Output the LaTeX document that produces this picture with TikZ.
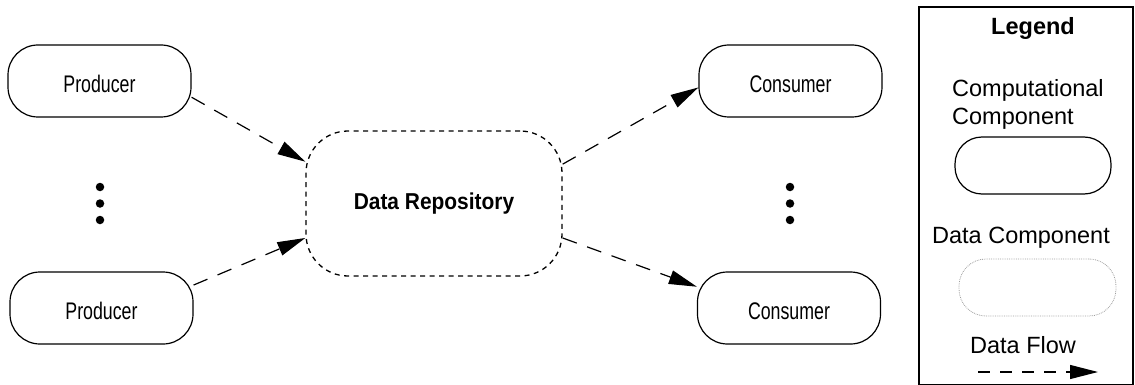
\documentclass[tikz,border=0pt]{standalone}
\usepackage{fontspec}
\setmainfont{Liberation Sans}
\newfontfamily\narrowfont[FakeStretch=0.74]{Liberation Sans}
\newfontfamily\repofont[FakeStretch=0.91]{Liberation Sans}
\usetikzlibrary{arrows.meta}

\begin{document}
\begin{tikzpicture}[x=1pt,y=-1pt]
\tikzset{
  comp/.style={draw, line width=1.2pt, rounded corners=30pt,
    minimum width=183pt, minimum height=72pt, inner sep=0pt,
    text height=23pt, text depth=0pt,
    font=\narrowfont\fontsize{24}{28}\selectfont},
  repo/.style={draw, line width=1.3pt, dash pattern=on 5pt off 4.5pt,
    rounded corners=42pt, minimum width=256pt, minimum height=145pt,
    inner sep=0pt, font=\repofont\bfseries\fontsize{23}{27}\selectfont},
  flow/.style={line width=1.2pt, dash pattern=on 15pt off 11pt,
    -{Triangle[length=28pt,width=14pt]}},
  vdot/.style={circle, fill, inner sep=0pt, minimum size=8.5pt},
  legtext/.style={font=\fontsize{23.5}{28}\selectfont, inner sep=0pt, anchor=base},
}
\useasboundingbox (0,0) rectangle (1135,385);

% components
\node[comp] (p1) at (99.5,81) {Producer};
\node[comp] (p2) at (101.5,308) {Producer};
\node[comp] (c1) at (790.5,81) {Consumer};
\node[comp] (c2) at (789,308) {Consumer};
\node[repo] (repo) at (434,203.5) {Data Repository};

% vertical ellipses
\node[vdot] (lp1) at (100,187) {};
\node[vdot] (lp2) at (100,203.5) {};
\node[vdot] (lp3) at (100,220) {};
\node[vdot] (rc1) at (790,187) {};
\node[vdot] (rc2) at (790,203.5) {};
\node[vdot] (rc3) at (790,220) {};

% data flows
\draw[flow] (p1.-10) -- (repo.162);
\draw[flow] (p2.14) -- (repo.-165);
\draw[flow] (repo.17.6) -- (c1.184);
\draw[flow] (repo.-15) -- (c2.167);

% legend
\node[draw, line width=1.5pt, minimum width=214pt, minimum height=378pt, inner sep=0pt] (legend) at (1026,196) {};
\node[legtext, font=\bfseries\fontsize{23.5}{28}\selectfont] (legtitle) at (1033,35) {Legend};
\node[legtext, anchor=base west] (lc1) at (952,97) {Computational};
\node[legtext, anchor=base west] (lc2) at (952,125) {Component};
\node[draw, line width=1.2pt, rounded corners=27pt, minimum width=156pt, minimum height=57pt] (legcomp) at (1033,165.5) {};
\node[legtext] (ldata) at (1021,243) {Data Component};
\node[draw=gray!75, line width=0.8pt, densely dotted, rounded corners=27pt, minimum width=157pt, minimum height=57pt] (legdata) at (1037.5,287.5) {};
\node[legtext] (lflow) at (1023,353) {Data Flow};
\coordinate (fa) at (978,372);
\coordinate (fb) at (1098,372);
\draw[flow, dash pattern=on 12pt off 10pt] (fa) -- (fb);
\end{tikzpicture}
\end{document}
